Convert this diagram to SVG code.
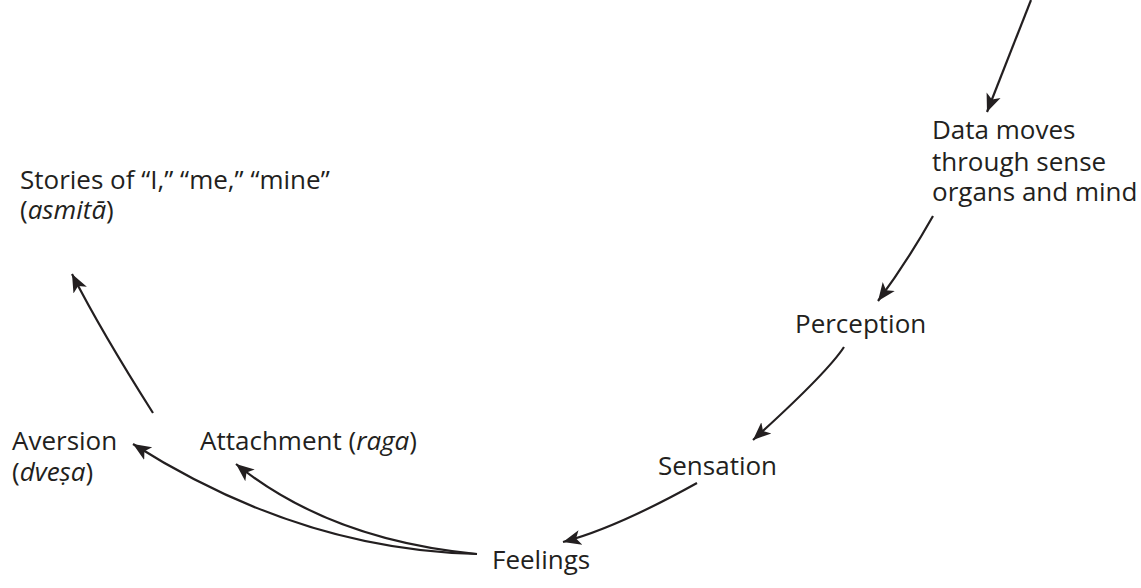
<svg xmlns="http://www.w3.org/2000/svg" width="1141" height="588" viewBox="0 0 1141 588">
<style>
text{font-family:"Open Sans","Noto Sans",sans-serif;font-size:26px;fill:#231f20}
.c{fill:none;stroke:#231f20;stroke-width:2.2}
</style>
<defs>
<marker id="ah" markerUnits="userSpaceOnUse" markerWidth="22" markerHeight="22" viewBox="0 0 22 22" refX="18" refY="11" orient="auto">
<path d="M0,3.5 L18,11 L0,18.5 L4.5,11 Z" fill="#231f20"/>
</marker>
</defs>
<rect width="1141" height="588" fill="#fff"/>
<g id="connectors">
<path class="c" d="M1031,0 L987,112" marker-end="url(#ah)"/>
<path class="c" d="M933,216 Q907,262 878,301" marker-end="url(#ah)"/>
<path class="c" d="M844,347 Q827,373 753,440" marker-end="url(#ah)"/>
<path class="c" d="M697,483 Q616,528 563,542" marker-end="url(#ah)"/>
<path class="c" d="M477,554 Q300,550 133,444" marker-end="url(#ah)"/>
<path class="c" d="M477,554 Q330,540 236,464" marker-end="url(#ah)"/>
<path class="c" d="M153,413 Q101,331 72,274" marker-end="url(#ah)"/>
</g>
<g id="data"><text x="932" y="139">Data moves</text><text x="932" y="171">through sense</text><text x="932" y="201">organs and mind</text></g>
<g id="perception"><text x="795" y="333">Perception</text></g>
<g id="sensation"><text x="658" y="475">Sensation</text></g>
<g id="feelings"><text x="492" y="569">Feelings</text></g>
<g id="attachment"><text x="200" y="450">Attachment (<tspan font-style="italic">raga</tspan>)</text></g>
<g id="aversion"><text x="12" y="450">Aversion</text><text x="12" y="481">(<tspan font-style="italic">dveṣa</tspan>)</text></g>
<g id="stories"><text x="20" y="189">Stories of “I,” “me,” “mine”</text><text x="20" y="219">(<tspan font-style="italic">asmitā</tspan>)</text></g>
</svg>
